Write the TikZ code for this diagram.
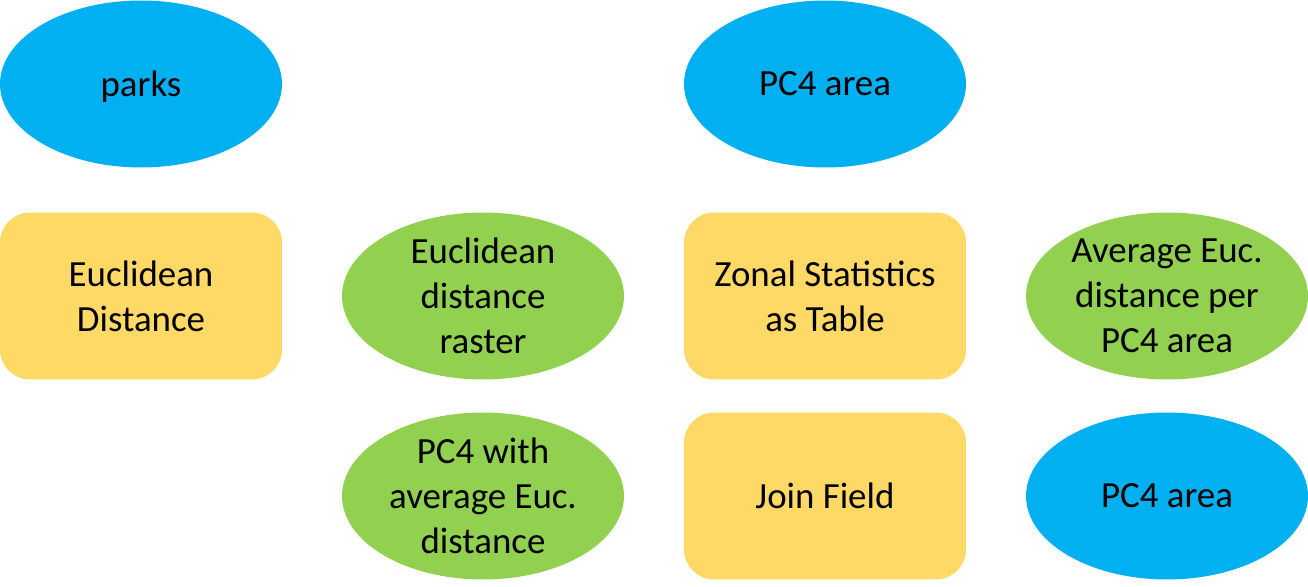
\documentclass[tikz,border=0pt]{standalone}
\usepackage{fontspec}
\setmainfont{Carlito}
\usetikzlibrary{shapes.geometric}
\definecolor{dataBlue}{HTML}{00B0F0}
\definecolor{toolYellow}{HTML}{FFD966}
\definecolor{outGreen}{HTML}{92D050}
\begin{document}
\begin{tikzpicture}[x=0.02cm,y=-0.02cm,
  blob/.style={ellipse,minimum width=5.64cm,minimum height=3.34cm,inner sep=0pt,outer sep=0pt},
  inputdata/.style={blob,fill=dataBlue},
  output/.style={blob,fill=outGreen},
  tool/.style={rectangle,rounded corners=0.6cm,fill=toolYellow,minimum width=5.64cm,minimum height=3.34cm,inner sep=0pt,outer sep=0pt},
  label/.style={align=center,font=\fontsize{21}{25.6}\selectfont,inner sep=0pt}]
\useasboundingbox (0,0) rectangle (1308,587);
% row 1: inputs
\node[inputdata] (parks) at (141,84) {};
\node[label,text depth=0pt] (parksT) at (parks) {parks};
\node[inputdata] (pcTop) at (825,84) {};
\node[label] (pcTopT) at (pcTop) {PC4 area};
% row 2
\node[tool] (euc) at (141,296) {};
\node[label] (eucT) at (euc) {Euclidean\\Distance};
\node[output] (raster) at (483,296) {};
\node[label] (rasterT) at (raster) {Euclidean\\distance\\raster};
\node[tool] (zonal) at (825,296) {};
\node[label] (zonalT) at (zonal) {Zonal Statistics\\as Table};
\node[output] (avg) at (1167,296) {};
\node[label] (avgT) at (avg) {Average Euc.\\distance per\\PC4 area};
% row 3
\node[output] (joined) at (483,496) {};
\node[label] (joinedT) at (joined) {PC4 with\\average Euc.\\distance};
\node[tool] (join) at (825,496) {};
\node[label] (joinT) at (join) {Join Field};
\node[inputdata] (pcBot) at (1167,496) {};
\node[label] (pcBotT) at (pcBot) {PC4 area};
\end{tikzpicture}
\end{document}
